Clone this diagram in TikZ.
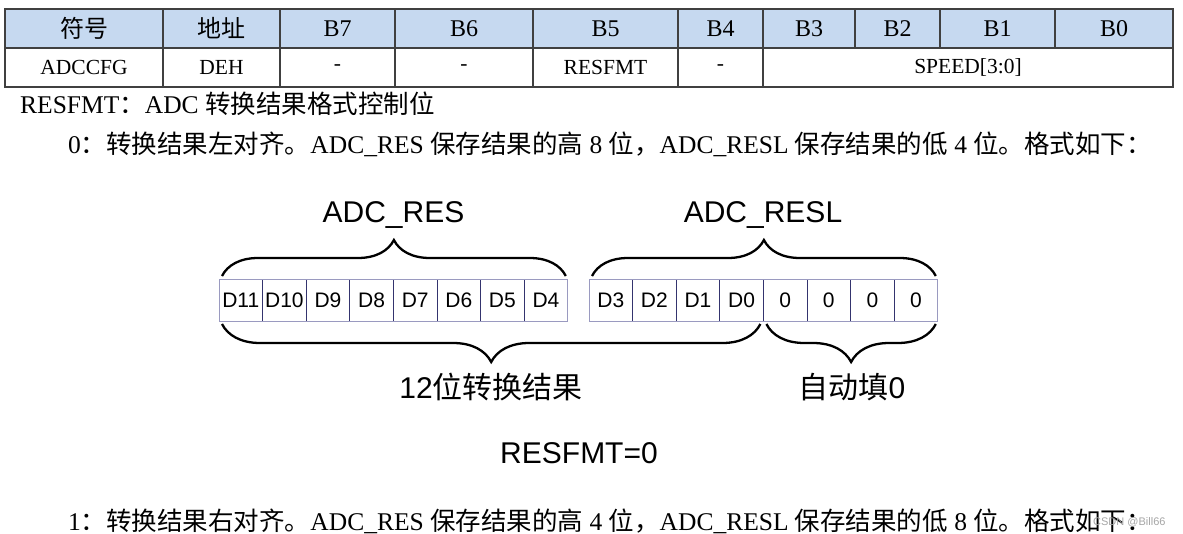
\documentclass[tikz,border=0pt]{standalone}
\usepackage{fontspec}
\setmainfont{Liberation Serif}
\newfontfamily\cjk{Noto Sans CJK SC}
\newfontfamily\arial{Liberation Sans}
\usetikzlibrary{positioning,decorations.pathreplacing}
\definecolor{hdrblue}{HTML}{C6D9F0}
\definecolor{gridgray}{HTML}{404040}
\definecolor{cellline}{HTML}{34346E}
\definecolor{celledge}{HTML}{9A9AC0}

\begin{document}
\begin{tikzpicture}[x=1pt,y=-1pt,
  hcell/.style={draw=gridgray,fill=hdrblue,line width=1.2pt,minimum height=39pt,
    inner sep=0pt,outer sep=0pt,font=\fontsize{24}{24}\selectfont},
  rcell/.style={draw=gridgray,line width=1.2pt,minimum height=39pt,
    inner sep=0pt,outer sep=0pt,font=\fontsize{21.5}{21.5}\selectfont},
  bitcell/.style={draw=cellline,line width=0.8pt,minimum width=43.6pt,minimum height=42pt,
    inner sep=0pt,outer sep=0pt,font=\arial\fontsize{21}{21}\selectfont},
  lbl/.style={font=\arial\fontsize{30}{30}\selectfont,inner sep=0pt,anchor=base},
  bitbrace/.style={decorate,decoration={brace,amplitude=#1},line width=2.3pt},
  txt/.style={anchor=base west,inner sep=0pt,font=\fontsize{25.5}{25.5}\selectfont}]
  \fill[white] (0,0) rectangle (1183,533);
  \useasboundingbox (0,0) rectangle (1183,533);

  % register table
  \node[hcell,minimum width=158pt] (sym)  at (84,28.5)    {\cjk 符号};
  \node[hcell,minimum width=117pt] (addr) [right=0pt of sym]  {\cjk 地址};
  \node[hcell,minimum width=115pt] (b7)   [right=0pt of addr] {B7};
  \node[hcell,minimum width=138pt] (b6)   [right=0pt of b7]   {B6};
  \node[hcell,minimum width=145pt] (b5)   [right=0pt of b6]   {B5};
  \node[hcell,minimum width=85pt]  (b4)   [right=0pt of b5]   {B4};
  \node[hcell,minimum width=92pt]  (b3)   [right=0pt of b4]   {B3};
  \node[hcell,minimum width=85pt]  (b2)   [right=0pt of b3]   {B2};
  \node[hcell,minimum width=115pt] (b1)   [right=0pt of b2]   {B1};
  \node[hcell,minimum width=118pt] (b0)   [right=0pt of b1]   {B0};

  \node[rcell,minimum width=158pt] (name)  [below=0pt of sym]   {ADCCFG};
  \node[rcell,minimum width=117pt] (haddr) [right=0pt of name]  {DEH};
  \node[rcell,minimum width=115pt] (v7)    [right=0pt of haddr] {-};
  \node[rcell,minimum width=138pt] (v6)    [right=0pt of v7]    {-};
  \node[rcell,minimum width=145pt] (v5)    [right=0pt of v6]    {RESFMT};
  \node[rcell,minimum width=85pt]  (v4)    [right=0pt of v5]    {-};
  \node[rcell,minimum width=410pt] (speed) [right=0pt of v4]    {SPEED[3:0]};

  \node[txt] (desc)  at (20,113) {RESFMT{\cjk ：}ADC {\cjk 转换结果格式控制位}};
  \node[txt] (mode0) at (68,153) {0{\cjk ：转换结果左对齐。}ADC\_RES {\cjk 保存结果的高} 8 {\cjk 位，}ADC\_RESL {\cjk 保存结果的低} 4 {\cjk 位。格式如下：}};

  % result bits
  \node[bitcell] (d11) at (240.8,300) {D11};
  \node[bitcell] (d10) [right=0pt of d11] {D10};
  \node[bitcell] (d9)  [right=0pt of d10] {D9};
  \node[bitcell] (d8)  [right=0pt of d9]  {D8};
  \node[bitcell] (d7)  [right=0pt of d8]  {D7};
  \node[bitcell] (d6)  [right=0pt of d7]  {D6};
  \node[bitcell] (d5)  [right=0pt of d6]  {D5};
  \node[bitcell] (d4)  [right=0pt of d5]  {D4};
  \node[bitcell] (d3)  at (610.8,300)     {D3};
  \node[bitcell] (d2)  [right=0pt of d3]  {D2};
  \node[bitcell] (d1)  [right=0pt of d2]  {D1};
  \node[bitcell] (d0)  [right=0pt of d1]  {D0};
  \node[bitcell] (z1)  [right=0pt of d0]  {0};
  \node[bitcell] (z2)  [right=0pt of z1]  {0};
  \node[bitcell] (z3)  [right=0pt of z2]  {0};
  \node[bitcell] (z4)  [right=0pt of z3]  {0};
  \draw[celledge,line width=0.8pt] (d11.north west) rectangle (d4.south east);
  \draw[celledge,line width=0.8pt] (d3.north west) rectangle (z4.south east);

  \node[lbl] (res)  at (393.5,222) {ADC\_RES};
  \node[lbl] (resl) at (763,222)   {ADC\_RESL};
  \node[lbl] (conv) at (491,398)   {12{\cjk 位转换结果}};
  \node[lbl] (fill) at (852,398)   {{\cjk 自动填}0};
  \node[lbl] (fmt)  at (579,463)   {RESFMT=0};

  \path ([xshift=3pt,yshift=3pt]d11.north west) edge[bitbrace=36pt] ([xshift=-2pt,yshift=3pt]d4.north east)
        ([xshift=3pt,yshift=3pt]d3.north west)  edge[bitbrace=36pt] ([xshift=-2pt,yshift=3pt]z4.north east)
        ([xshift=-3pt,yshift=-3pt]d0.south east) edge[bitbrace=38pt] ([xshift=3pt,yshift=-3pt]d11.south west)
        ([xshift=-2pt,yshift=-3pt]z4.south east) edge[bitbrace=38pt] ([xshift=3pt,yshift=-3pt]z1.south west);

  \node[txt] (mode1) at (68,530) {1{\cjk ：转换结果右对齐。}ADC\_RES {\cjk 保存结果的高} 4 {\cjk 位，}ADC\_RESL {\cjk 保存结果的低} 8 {\cjk 位。格式如下：}};
  \node[anchor=base west,inner sep=0pt,text=gray!70,font=\arial\fontsize{11}{11}\selectfont] (mark) at (1093,525) {CSDN @Bill66};
\end{tikzpicture}
\end{document}
